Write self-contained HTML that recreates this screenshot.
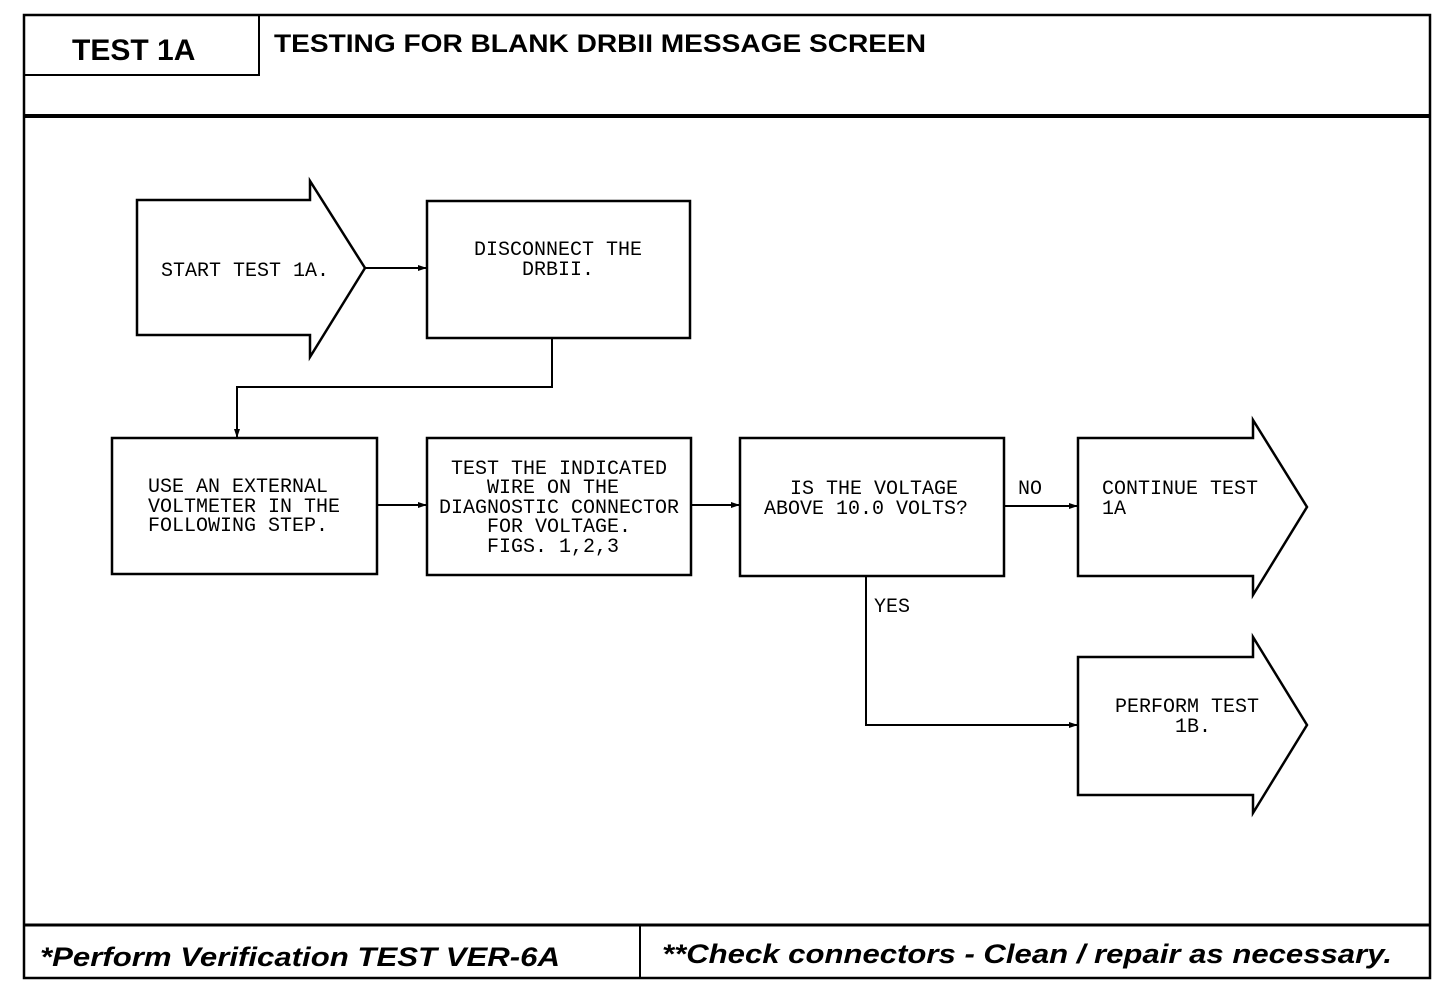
<!DOCTYPE html>
<html><head><meta charset="utf-8"><style>
body{margin:0;background:#fff}
svg{display:block}
.m{font-family:"Liberation Mono",monospace;font-size:20px;fill:#000}
.h{font-family:"Liberation Sans",sans-serif;font-weight:bold;fill:#000}
</style></head><body>
<svg width="1456" height="988" viewBox="0 0 1456 988" xmlns="http://www.w3.org/2000/svg">
<defs><marker id="a" markerWidth="10" markerHeight="8" refX="9" refY="4" orient="auto" markerUnits="userSpaceOnUse"><path d="M0,1 L9,4 L0,7z" fill="#000"/></marker></defs>
<g fill="none" stroke="#000">
<rect x="24" y="15" width="1406" height="963" stroke-width="2.5"/>
<line x1="24" y1="116" x2="1430" y2="116" stroke-width="4"/>
<line x1="24" y1="925" x2="1430" y2="925" stroke-width="3"/>
<line x1="640" y1="925" x2="640" y2="978" stroke-width="2"/>
<polyline points="24,75 259,75 259,15" stroke-width="2"/>
<g stroke-width="2.5">
<path d="M137,200 H310 V181 L365,268 L310,357 V335 H137Z"/>
<rect x="427" y="201" width="263" height="137"/>
<rect x="112" y="438" width="265" height="136"/>
<rect x="427" y="438" width="264" height="137"/>
<rect x="740" y="438" width="264" height="138"/>
<path d="M1078,438 H1253 V420 L1307,507 L1253,595 V576 H1078Z"/>
<path d="M1078,657 H1253 V637 L1307,725 L1253,813 V795 H1078Z"/>
</g>
<g stroke-width="2" marker-end="url(#a)">
<line x1="365" y1="268" x2="427" y2="268"/>
<polyline points="552,338 552,387 237,387 237,438"/>
<line x1="377" y1="505" x2="427" y2="505"/>
<line x1="691" y1="505" x2="740" y2="505"/>
<line x1="1004" y1="506" x2="1078" y2="506"/>
<polyline points="866,576 866,725 1078,725"/>
</g>
</g>
<text class="h" x="72" y="60" font-size="30">TEST 1A</text>
<text class="h" x="274" y="52" font-size="25" textLength="652" lengthAdjust="spacingAndGlyphs">TESTING FOR BLANK DRBII MESSAGE SCREEN</text>
<text class="h" x="40" y="966" font-size="27" font-style="italic" textLength="520" lengthAdjust="spacingAndGlyphs">*Perform Verification TEST VER-6A</text>
<text class="h" x="662" y="963" font-size="27" font-style="italic" textLength="730" lengthAdjust="spacingAndGlyphs">**Check connectors - Clean / repair as necessary.</text>
<g class="m">
<text x="161" y="276">START TEST 1A.</text>
<text x="474" y="255">DISCONNECT THE</text>
<text x="522" y="275">DRBII.</text>
<text x="148" y="492">USE AN EXTERNAL</text>
<text x="148" y="512">VOLTMETER IN THE</text>
<text x="148" y="531">FOLLOWING STEP.</text>
<text x="451" y="474">TEST THE INDICATED</text>
<text x="487" y="493">WIRE ON THE</text>
<text x="439" y="513">DIAGNOSTIC CONNECTOR</text>
<text x="487" y="532">FOR VOLTAGE.</text>
<text x="487" y="552">FIGS. 1,2,3</text>
<text x="790" y="494">IS THE VOLTAGE</text>
<text x="764" y="514">ABOVE 10.0 VOLTS?</text>
<text x="1018" y="494">NO</text>
<text x="1102" y="494">CONTINUE TEST</text>
<text x="1102" y="514">1A</text>
<text x="874" y="612">YES</text>
<text x="1115" y="712">PERFORM TEST</text>
<text x="1175" y="732">1B.</text>
</g>
</svg>
</body></html>
